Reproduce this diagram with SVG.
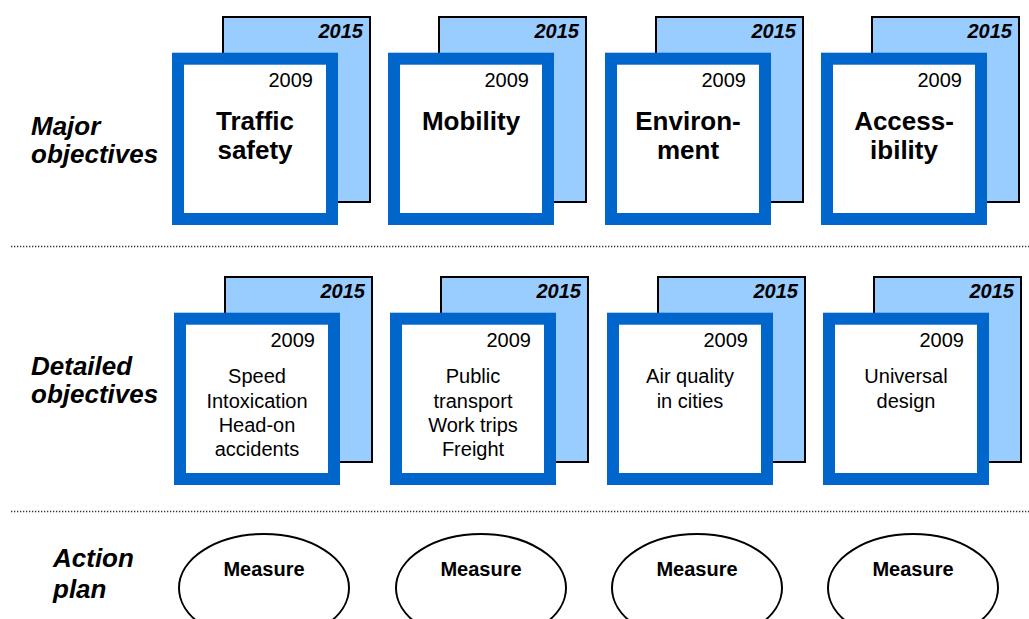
<svg xmlns="http://www.w3.org/2000/svg" width="1029" height="619" viewBox="0 0 1029 619">
<style>
text{font-family:"Liberation Sans",Arial,sans-serif;fill:#000}
.back{fill:#99CCFF;stroke:#000;stroke-width:2}
.front{fill:#fff;stroke:#0066CC;stroke-width:12}
.y15{font-size:20px;font-weight:bold;font-style:italic;text-anchor:end}
.y09{font-size:20px;text-anchor:end}
.title{font-size:26px;font-weight:bold;text-anchor:middle}
.body{font-size:20px;text-anchor:middle}
.lab{font-size:26px;font-weight:bold;font-style:italic}
.sep{stroke:#333;stroke-width:1.3;stroke-dasharray:1.3 1.7;fill:none}
.ell{fill:#fff;stroke:#000;stroke-width:2}
.meas{font-size:20px;font-weight:bold;text-anchor:middle}
</style>
<g id="labels">
<text class="lab" x="31" y="135">Major</text>
<text class="lab" x="31" y="163">objectives</text>
<text class="lab" x="31" y="375">Detailed</text>
<text class="lab" x="31" y="403">objectives</text>
<text class="lab" x="53" y="567">Action</text>
<text class="lab" x="53" y="598">plan</text>
</g>
<g id="connectors">
<line class="sep" x1="11" y1="246.5" x2="1029" y2="246.5"/>
<line class="sep" x1="11" y1="511.5" x2="1029" y2="511.5"/>
</g>
<g id="major-traffic" transform="translate(172,0)">
<rect class="back" x="51" y="17" width="147" height="185"/>
<text class="y15" x="191" y="38">2015</text>
<rect class="front" x="6" y="58.7" width="154" height="160.3"/>
<text class="y09" x="141" y="86.7">2009</text>
<text class="title" x="83" y="130">Traffic</text>
<text class="title" x="83" y="159">safety</text>
</g>
<g id="major-mobility" transform="translate(388,0)">
<rect class="back" x="51" y="17" width="147" height="185"/>
<text class="y15" x="191" y="38">2015</text>
<rect class="front" x="6" y="58.7" width="154" height="160.3"/>
<text class="y09" x="141" y="86.7">2009</text>
<text class="title" x="83" y="130">Mobility</text>
</g>
<g id="major-environment" transform="translate(605,0)">
<rect class="back" x="51" y="17" width="147" height="185"/>
<text class="y15" x="191" y="38">2015</text>
<rect class="front" x="6" y="58.7" width="154" height="160.3"/>
<text class="y09" x="141" y="86.7">2009</text>
<text class="title" x="83" y="130">Environ-</text>
<text class="title" x="83" y="159">ment</text>
</g>
<g id="major-accessibility" transform="translate(821,0)">
<rect class="back" x="51" y="17" width="147" height="185"/>
<text class="y15" x="191" y="38">2015</text>
<rect class="front" x="6" y="58.7" width="154" height="160.3"/>
<text class="y09" x="141" y="86.7">2009</text>
<text class="title" x="83" y="130">Access-</text>
<text class="title" x="83" y="159">ibility</text>
</g>
<g id="detail-traffic" transform="translate(174,260)">
<rect class="back" x="51" y="17" width="147" height="185"/>
<text class="y15" x="191" y="38">2015</text>
<rect class="front" x="6" y="58.7" width="154" height="160.3"/>
<text class="y09" x="141" y="86.7">2009</text>
<text class="body" x="83" y="123.3">Speed</text>
<text class="body" x="83" y="147.5">Intoxication</text>
<text class="body" x="83" y="171.7">Head-on</text>
<text class="body" x="83" y="196">accidents</text>
</g>
<g id="detail-mobility" transform="translate(390,260)">
<rect class="back" x="51" y="17" width="147" height="185"/>
<text class="y15" x="191" y="38">2015</text>
<rect class="front" x="6" y="58.7" width="154" height="160.3"/>
<text class="y09" x="141" y="86.7">2009</text>
<text class="body" x="83" y="123.3">Public</text>
<text class="body" x="83" y="147.5">transport</text>
<text class="body" x="83" y="171.7">Work trips</text>
<text class="body" x="83" y="196">Freight</text>
</g>
<g id="detail-environment" transform="translate(607,260)">
<rect class="back" x="51" y="17" width="147" height="185"/>
<text class="y15" x="191" y="38">2015</text>
<rect class="front" x="6" y="58.7" width="154" height="160.3"/>
<text class="y09" x="141" y="86.7">2009</text>
<text class="body" x="83" y="123.3">Air quality</text>
<text class="body" x="83" y="147.5">in cities</text>
</g>
<g id="detail-accessibility" transform="translate(823,260)">
<rect class="back" x="51" y="17" width="147" height="185"/>
<text class="y15" x="191" y="38">2015</text>
<rect class="front" x="6" y="58.7" width="154" height="160.3"/>
<text class="y09" x="141" y="86.7">2009</text>
<text class="body" x="83" y="123.3">Universal</text>
<text class="body" x="83" y="147.5">design</text>
</g>
<g id="measure-1">
<ellipse class="ell" cx="264" cy="588" rx="85" ry="54"/>
<text class="meas" x="264" y="576">Measure</text>
</g>
<g id="measure-2">
<ellipse class="ell" cx="481" cy="588" rx="85" ry="54"/>
<text class="meas" x="481" y="576">Measure</text>
</g>
<g id="measure-3">
<ellipse class="ell" cx="697" cy="588" rx="85" ry="54"/>
<text class="meas" x="697" y="576">Measure</text>
</g>
<g id="measure-4">
<ellipse class="ell" cx="913" cy="588" rx="85" ry="54"/>
<text class="meas" x="913" y="576">Measure</text>
</g>
</svg>
